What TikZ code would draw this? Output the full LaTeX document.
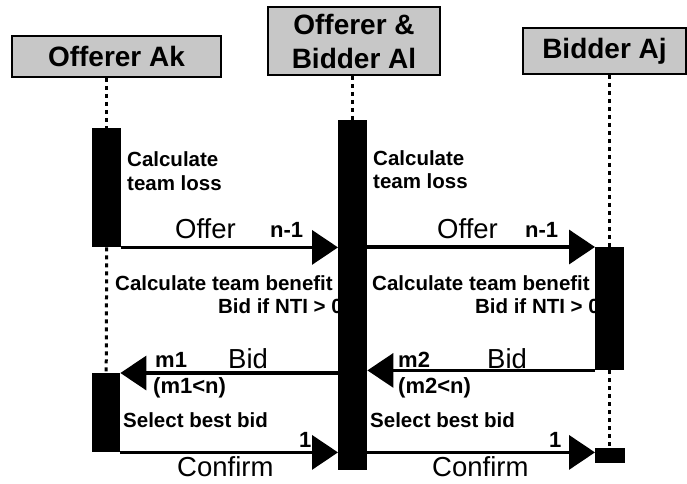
\documentclass[tikz,border=0pt]{standalone}
\usepackage{fontspec}
\setmainfont{Liberation Sans}
\usetikzlibrary{arrows.meta}
\begin{document}
\begin{tikzpicture}[x=1pt,y=-1pt,
  hdr/.style={draw=black, line width=1.5pt, fill=black!22, inner sep=0pt, font=\fontsize{28}{34}\selectfont\bfseries, align=center},
  act/.style={fill=black, draw=none, inner sep=0pt, anchor=north west},
  life/.style={line width=3pt, dash pattern=on 4pt off 4pt},
  msg/.style={line width=3.5pt, -{Triangle[length=26pt,width=34pt]}},
  big/.style={font=\fontsize{27.5}{32}\selectfont, anchor=base west, inner sep=0pt},
  num/.style={font=\fontsize{22}{26}\selectfont\bfseries, anchor=base west, inner sep=0pt},
  note/.style={font=\fontsize{20.5}{24}\selectfont\bfseries, anchor=base west, inner sep=0pt},
]
\useasboundingbox (0,0) rectangle (687,483);

% headers
\node[hdr, minimum width=209pt, minimum height=41pt] (h1) at (116.5,56.5) {Offerer Ak};
\node[hdr, minimum width=172pt, minimum height=68pt] (h2) at (354,41) {Offerer \&\\Bidder Al};
\node[hdr, minimum width=163pt, minimum height=46pt] (h3) at (604.5,51) {Bidder Aj};

% notes and labels
\node[note] (c1a) at (127,166) {Calculate};
\node[note] (c1b) at (127,190) {team loss};
\node[note] (c2a) at (373,165) {Calculate};
\node[note] (c2b) at (373,188) {team loss};

\node[big] (of1) at (175,238) {Offer};
\node[num] (n1) at (270,237) {n-1};
\node[big] (of2) at (437,238) {Offer};
\node[num] (n2) at (525,237) {n-1};

\node[note] (tb1) at (115,290) {Calculate team benefit};
\node[note, anchor=base east] (bi1) at (343,313) {Bid if NTI > 0};
\node[note] (tb2) at (372,290) {Calculate team benefit};
\node[note, anchor=base east] (bi2) at (600,313) {Bid if NTI > 0};

\node[num] (m1) at (155,367) {m1};
\node[big] (bd1) at (228,368) {Bid};
\node[num] (m2) at (398,367) {m2};
\node[big] (bd2) at (487,368) {Bid};
\node[num] (mc1) at (153,393) {(m1<n)};
\node[num] (mc2) at (398,393) {(m2<n)};

\node[note] (sb1) at (123,427) {Select best bid};
\node[note] (sb2) at (370,427) {Select best bid};
\node[num] (o1) at (299,447) {1};
\node[num] (o2) at (549,447) {1};
\node[big] (cf1) at (177,476) {Confirm};
\node[big] (cf2) at (432,476) {Confirm};

% activation bars
\node[act, minimum width=29pt, minimum height=119pt] (b1a) at (92,128) {};
\node[act, minimum width=28pt, minimum height=79pt] (b1b) at (92,373) {};
\node[act, minimum width=29pt, minimum height=350pt] (b2) at (338,120) {};
\node[act, minimum width=29pt, minimum height=123pt] (b3a) at (595,247) {};
\node[act, minimum width=30pt, minimum height=15pt] (b3b) at (595,448) {};

% lifelines
\draw[life] (h1.south -| b1a.north) -- (b1a.north);
\draw[life] (b1a.south) -- (b1b.north);
\draw[life] (h2.south -| b2.north) -- (b2.north);
\draw[life] (h3.south -| b3a.north) -- (b3a.north);
\draw[life] (b3a.south) -- (b3b.north -| b3a.south);

% messages
\draw[msg] (b1a.south east) -- (b1a.south east -| b2.west);
\draw[msg] (b2.east |- b3a.north) -- (b3a.north west);
\draw[msg] (b1b.north east -| b2.west) -- (b1b.north east);
\draw[msg] (b3a.south west) -- (b3a.south west -| b2.east);
\draw[msg] (b1b.south east) -- (b1b.south east -| b2.west);
\draw[msg] (b2.east |- b1b.south) -- (b1b.south -| b3b.west);
\end{tikzpicture}
\end{document}
